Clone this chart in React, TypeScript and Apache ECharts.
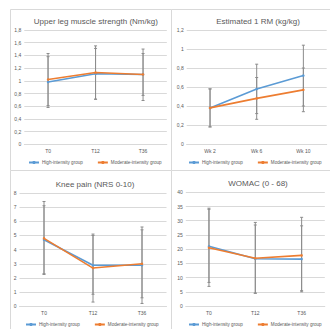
import React, { useEffect, useRef } from "react";
import * as echarts from "echarts";

const catsT = ["T0", "T12", "T36"];
const catsWk = ["Wk 2", "Wk 6", "Wk 10"];

const strengthHigh = [0.98, 1.11, 1.1];
const strengthMod = [1.02, 1.13, 1.1];
const strengthHighLow = [0.58, 0.71, 0.77];
const strengthHighUp = [1.38, 1.51, 1.43];
const strengthModLow = [0.61, 0.71, 0.69];
const strengthModUp = [1.43, 1.55, 1.5];

const rmHigh = [0.38, 0.58, 0.72];
const rmMod = [0.38, 0.48, 0.57];
const rmHighLow = [0.18, 0.32, 0.4];
const rmHighUp = [0.58, 0.84, 1.04];
const rmModLow = [0.18, 0.26, 0.34];
const rmModUp = [0.58, 0.7, 0.8];

const painHigh = [4.7, 2.9, 2.9];
const painMod = [4.8, 2.7, 3.0];
const painHighLow = [2.3, 0.85, 0.6];
const painHighUp = [7.1, 5.0, 5.4];
const painModLow = [2.25, 0.3, 0.2];
const painModUp = [7.4, 5.1, 5.6];

const womacHigh = [21.0, 16.6, 16.5];
const womacMod = [20.5, 16.8, 17.8];
const womacHighLow = [8.3, 4.5, 5.4];
const womacHighUp = [34.4, 28.5, 28.2];
const womacModLow = [6.9, 4.5, 5.0];
const womacModUp = [34.0, 29.4, 31.2];

const titles = [
  "Upper leg muscle strength (Nm/kg)",
  "Estimated 1 RM (kg/kg)",
  "Knee pain (NRS 0-10)",
  "WOMAC (0 - 68)",
];
const HIGH = "High-intensity group";
const MOD = "Moderate-intensity group";

const FONT = "'Liberation Sans Narrow', 'Liberation Sans', Arial, sans-serif";
const BLUE = "#5b9bd5";
const ORANGE = "#ed7d31";
const GRAYTXT = "#595959";

export default function App() {
  const ref = useRef<HTMLDivElement>(null);
  useEffect(() => {
    if (!ref.current) return;
    const chart = echarts.init(ref.current, undefined, { renderer: "svg" });

    const panels = [
      { cats: catsT, hi: strengthHigh, mo: strengthMod, hl: strengthHighLow, hu: strengthHighUp, ml: strengthModLow, mu: strengthModUp, max: 1.8, interval: 0.2, grid: { left: 24.3, top: 30, width: 142.5, height: 114.3 }, title: [90.8, 18], legend: [28, 160] },
      { cats: catsWk, hi: rmHigh, mo: rmMod, hl: rmHighLow, hu: rmHighUp, ml: rmModLow, mu: rmModUp, max: 1.2, interval: 0.2, grid: { left: 186.7, top: 30, width: 140, height: 114 }, title: [253, 18], legend: [188, 160] },
      { cats: catsT, hi: painHigh, mo: painMod, hl: painHighLow, hu: painHighUp, ml: painModLow, mu: painModUp, max: 8, interval: 1, grid: { left: 19.5, top: 193, width: 147, height: 113.3 }, title: [90, 181], legend: [25, 322] },
      { cats: catsT, hi: womacHigh, mo: womacMod, hl: womacHighLow, hu: womacHighUp, ml: womacModLow, mu: womacModUp, max: 40, interval: 5, grid: { left: 185.8, top: 192.3, width: 139, height: 113.7 }, title: [253, 180], legend: [188, 322] },
    ];

    const fmt = (v: number) => String(+v.toFixed(1)).replace(".", ",");

    const errRender = (params: any, api: any) => {
      const x = api.value(0);
      const lo = api.coord([x, api.value(1)]);
      const hi = api.coord([x, api.value(2)]);
      const w = 1.5;
      const st = { stroke: "#8c8c8c", lineWidth: 1 };
      return {
        type: "group",
        children: [
          { type: "line", shape: { x1: lo[0], y1: lo[1], x2: hi[0], y2: hi[1] }, style: st },
          { type: "line", shape: { x1: lo[0] - w, y1: lo[1], x2: lo[0] + w, y2: lo[1] }, style: st },
          { type: "line", shape: { x1: hi[0] - w, y1: hi[1], x2: hi[0] + w, y2: hi[1] }, style: st },
        ],
      };
    };

    const series: any[] = [];
    panels.forEach((p, i) => {
      const errData = (lo: number[], up: number[]) => lo.map((l, k) => [k, l, up[k]]);
      series.push(
        { type: "custom", name: "errH" + i, xAxisIndex: i, yAxisIndex: i, renderItem: errRender, data: errData(p.hl, p.hu), encode: { x: 0, y: [1, 2] }, z: 1, silent: true },
        { type: "custom", name: "errM" + i, xAxisIndex: i, yAxisIndex: i, renderItem: errRender, data: errData(p.ml, p.mu), encode: { x: 0, y: [1, 2] }, z: 1, silent: true },
        { type: "line", name: HIGH, xAxisIndex: i, yAxisIndex: i, data: p.hi, color: BLUE, lineStyle: { width: 1.6, color: BLUE }, itemStyle: { color: BLUE }, symbol: "circle", symbolSize: 2.5, z: 3 },
        { type: "line", name: MOD, xAxisIndex: i, yAxisIndex: i, data: p.mo, color: ORANGE, lineStyle: { width: 1.6, color: ORANGE }, itemStyle: { color: ORANGE }, symbol: "circle", symbolSize: 2.5, z: 4 }
      );
    });

    const borderStyle = { fill: "#ffffff", stroke: "#d9d9d9", lineWidth: 1 };

    chart.setOption({
      animation: false,
      backgroundColor: "#ffffff",
      textStyle: { fontFamily: FONT },
      graphic: [
        { type: "rect", shape: { x: 10.5, y: 9.5, width: 161, height: 161 }, style: borderStyle, z: -10 },
        { type: "rect", shape: { x: 171.5, y: 9.5, width: 170, height: 161 }, style: borderStyle, z: -10 },
        { type: "rect", shape: { x: 10.5, y: 170.5, width: 161, height: 170 }, style: borderStyle, z: -10 },
        { type: "rect", shape: { x: 171.5, y: 170.5, width: 170, height: 170 }, style: borderStyle, z: -10 },
      ],
      title: panels.map((p, i) => ({
        text: titles[i],
        left: p.title[0],
        top: p.title[1] - 5.5,
        textAlign: "center",
        textStyle: { fontFamily: FONT, fontSize: 8, fontWeight: "normal", color: GRAYTXT },
      })),
      legend: panels.map((p) => ({
        data: [HIGH, MOD],
        left: p.legend[0],
        top: p.legend[1],
        itemWidth: 10,
        itemHeight: 4,
        itemGap: 14,
        padding: 0,
        textStyle: { fontFamily: FONT, fontSize: 4.6, color: GRAYTXT, padding: [0, 0, 0, -2] },
      })),
      grid: panels.map((p) => ({ ...p.grid, containLabel: false })),
      xAxis: panels.map((p, i) => ({
        type: "category",
        gridIndex: i,
        data: p.cats,
        boundaryGap: true,
        axisLine: { show: true, lineStyle: { color: "#d9d9d9" } },
        axisTick: { show: false },
        axisLabel: { fontFamily: FONT, fontSize: 5, color: GRAYTXT, margin: 4 },
      })),
      yAxis: panels.map((p, i) => ({
        type: "value",
        gridIndex: i,
        min: 0,
        max: p.max,
        interval: p.interval,
        axisLine: { show: false },
        axisTick: { show: false },
        splitLine: { lineStyle: { color: "#d9d9d9", width: 1 } },
        axisLabel: { fontFamily: FONT, fontSize: 5, color: GRAYTXT, margin: 3, formatter: fmt },
      })),
      series,
    });
    return () => chart.dispose();
  }, []);
  return (
    <div
      ref={ref}
      style={{ position: "fixed", left: 0, top: 0, width: 330, height: 329 }}
    />
  );
}
